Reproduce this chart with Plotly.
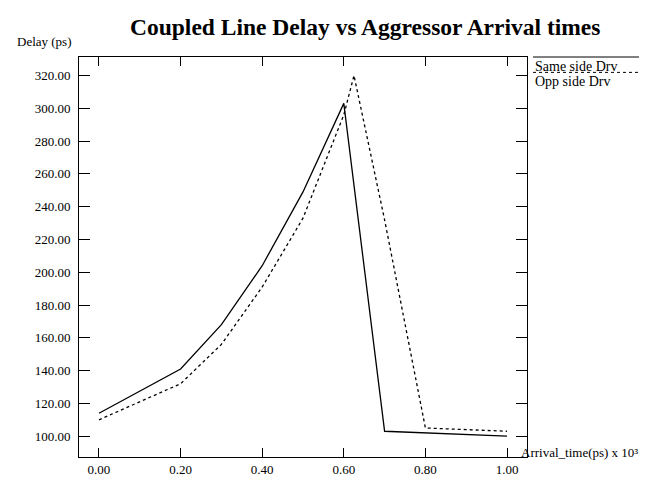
import plotly.graph_objects as go

# ---- data ----
same_x = [0.0, 0.2, 0.3, 0.4, 0.5, 0.6, 0.7, 1.0]
same_y = [114, 141, 168, 204, 249, 303, 103, 100]
opp_x = [0.0, 0.2, 0.3, 0.4, 0.5, 0.6, 0.625, 0.7, 0.8, 1.0]
opp_y = [110, 132, 156, 191, 233, 296, 320, 232, 105, 103]
x_ticks = [0.0, 0.2, 0.4, 0.6, 0.8, 1.0]
y_ticks = [100, 120, 140, 160, 180, 200, 220, 240, 260, 280, 300, 320]
series_names = ["Same side Drv", "Opp side Drv"]

FONT = "Liberation Serif, Times New Roman, serif"

fig = go.Figure()
fig.add_trace(go.Scatter(x=same_x, y=same_y, mode="lines", name=series_names[0],
                         line=dict(color="black", width=1.3), showlegend=False))
fig.add_trace(go.Scatter(x=opp_x, y=opp_y, mode="lines", name=series_names[1],
                         line=dict(color="black", width=1.3, dash="dot"), showlegend=False))

L, R, T, B = 71, 128, 49, 16
W, H = 647, 481
pw, ph = W - L - R, H - T - B

def px(xp):
    return (xp - L) / pw

def py(yp):
    return (H - B - yp) / ph

fig.update_layout(
    width=W, height=H,
    margin=dict(l=L, r=R, t=T, b=B),
    paper_bgcolor="white", plot_bgcolor="white",
    font=dict(family=FONT, size=13, color="black"),
    showlegend=False,
    xaxis=dict(range=[-0.049, 1.049], tickvals=x_ticks, tickformat=".2f",
               ticks="inside", ticklen=9, tickwidth=1, tickcolor="black",
               showline=True, linecolor="black", linewidth=1, mirror="ticks",
               showgrid=False, zeroline=False, tickfont=dict(size=13)),
    yaxis=dict(range=[87.3, 331.3], tickvals=y_ticks, tickformat=".2f",
               ticks="inside", ticklen=11, tickwidth=1, tickcolor="black",
               showline=True, linecolor="black", linewidth=1, mirror="ticks",
               ticklabelstandoff=5,
               showgrid=False, zeroline=False, tickfont=dict(size=13)),
)

annotations = [
    dict(text="<b>Coupled Line Delay vs Aggressor Arrival times</b>", xref="paper", yref="paper",
         x=px(357), y=py(18), xanchor="center", yanchor="middle", showarrow=False,
         font=dict(size=23.5, family=FONT)),
    dict(text="Delay (ps)", xref="paper", yref="paper", x=px(7), y=py(33),
         xanchor="left", yanchor="middle", showarrow=False, font=dict(size=13, family=FONT)),
    dict(text="Arrival_time(ps) x 10\u00b3",
         xref="paper", yref="paper", x=px(511), y=py(460),
         xanchor="left", yanchor="middle", showarrow=False, font=dict(size=13, family=FONT)),
    dict(text=series_names[0], xref="paper", yref="paper", x=px(525), y=py(59),
         xanchor="left", yanchor="middle", showarrow=False, font=dict(size=14, family=FONT)),
    dict(text=series_names[1], xref="paper", yref="paper", x=px(525), y=py(74),
         xanchor="left", yanchor="middle", showarrow=False, font=dict(size=14, family=FONT)),
]
fig.update_layout(annotations=annotations)

fig.add_shape(type="line", xref="paper", yref="paper", x0=px(525), x1=px(631), y0=py(49), y1=py(49),
              line=dict(color="black", width=1))
fig.add_shape(type="line", xref="paper", yref="paper", x0=px(525), x1=px(631), y0=py(65), y1=py(65),
              line=dict(color="black", width=1, dash="dot"))

fig.write_html("out.html")
